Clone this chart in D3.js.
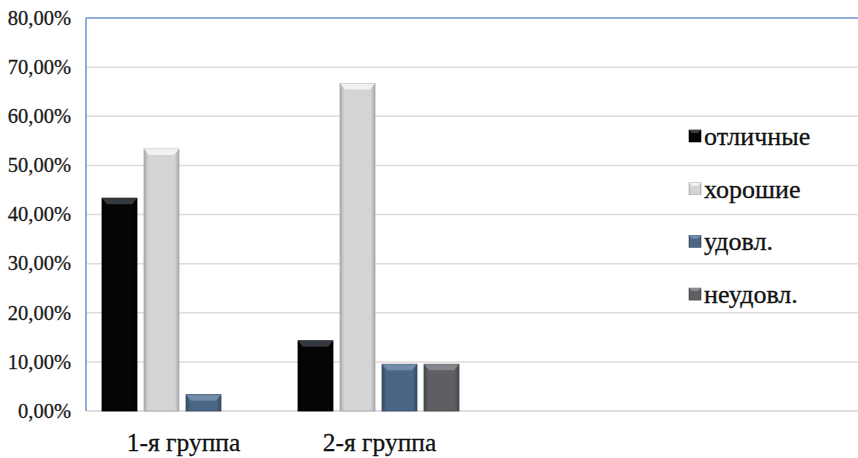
<!DOCTYPE html>
<html>
<head>
<meta charset="utf-8">
<script src="https://cdn.jsdelivr.net/npm/d3@7/dist/d3.min.js"></script>
<style>
  html, body { margin: 0; padding: 0; background: #fff; }
  svg { display: block; }
</style>
</head>
<body>
<svg id="chart" width="858" height="458"></svg>
<script>
// Оценки по группам (доля студентов, %)
const groups = ["1-я группа", "2-я группа"];
const series = ["отличные", "хорошие", "удовл.", "неудовл."];
const values = {
  "1-я группа": [43.33, 53.33, 3.33, 0],
  "2-я группа": [14.29, 66.67, 9.52, 9.52]
};
const yTicks = [0, 10, 20, 30, 40, 50, 60, 70, 80];

const FONT = '"Liberation Serif"';

// face, edge (darker sides), cap (top bevel)
const palette = [
  { face: "#050505", edge: "#000000", cap: "#3a3f46" },
  { face: "#d4d4d6", edge: "#a9a9ab", cap: "#f4f4f4" },
  { face: "#4b6585", edge: "#354a63", cap: "#7690ae" },
  { face: "#5e5e63", edge: "#46464a", cap: "#8a8a8f" }
];

const svg = d3.select("#chart");
const plotLeft = 86, plotTop = 18, plotBottom = 411, plotRight = 858;

const y = d3.scaleLinear().domain([0, 80]).range([plotBottom, plotTop]);
const x0 = d3.scaleBand().domain(groups).range([plotLeft, 475])
  .paddingInner(0.1429).paddingOuter(0.0638);
const x1 = d3.scaleBand().domain(series).range([0, x0.bandwidth()])
  .paddingInner(0.1667).paddingOuter(0.0833);

const defs = svg.append("defs");
palette.forEach((p, i) => {
  const g = defs.append("linearGradient").attr("id", "side" + i)
    .attr("x1", 0).attr("x2", 1).attr("y1", 0).attr("y2", 0);
  g.append("stop").attr("offset", "0%").attr("stop-color", p.edge);
  g.append("stop").attr("offset", "12%").attr("stop-color", p.face);
  g.append("stop").attr("offset", "88%").attr("stop-color", p.face);
  g.append("stop").attr("offset", "100%").attr("stop-color", p.edge);
});

// gridlines
svg.append("g").selectAll("line").data(yTicks.filter(t => t > 0 && t < 80)).join("line")
  .attr("x1", plotLeft).attr("x2", plotRight)
  .attr("y1", d => y(d)).attr("y2", d => y(d))
  .attr("stroke", "#e4dada").attr("stroke-width", 1.5);

// baseline
svg.append("line").attr("x1", plotLeft).attr("x2", plotRight)
  .attr("y1", y(0)).attr("y2", y(0))
  .attr("stroke", "#d8d2d2").attr("stroke-width", 1.5);

// top border and value axis line
svg.append("line").attr("x1", plotLeft).attr("x2", plotRight)
  .attr("y1", y(80)).attr("y2", y(80))
  .attr("stroke", "#8eb0d6").attr("stroke-width", 2);
svg.append("line").attr("x1", plotLeft).attr("x2", plotLeft)
  .attr("y1", y(80)).attr("y2", y(0))
  .attr("stroke", "#8eb0d6").attr("stroke-width", 2);

// y tick labels
svg.append("g").selectAll("text").data(yTicks).join("text")
  .attr("x", 71).attr("y", d => y(d))
  .attr("dy", "0.33em").attr("text-anchor", "end")
  .style("font-family", FONT)
  .style("font-size", "20.5px").attr("fill", "#1a1a1a")
  .attr("stroke", "#1a1a1a").attr("stroke-width", 0.3)
  .text(d => d.toFixed(2).replace(".", ",") + "%");

// bars
const bars = [];
groups.forEach(g => series.forEach((s, i) => {
  if (values[g][i] > 0) bars.push({ g, s, i, v: values[g][i] });
}));

const bg = svg.append("g").selectAll("g").data(bars).join("g")
  .attr("transform", d => `translate(${x0(d.g) + x1(d.s)},0)`);

const bw = x1.bandwidth();
bg.append("rect")
  .attr("x", 0).attr("y", d => y(d.v))
  .attr("width", bw).attr("height", d => y(0) - y(d.v))
  .attr("fill", d => `url(#side${d.i})`)
  .attr("stroke", d => palette[d.i].edge).attr("stroke-width", 0.8);

// bevelled top cap
bg.append("path")
  .attr("d", d => {
    const t = y(d.v), h = 6, inset = 5;
    return `M0,${t} L${bw},${t} L${bw - inset},${t + h} L${inset},${t + h} Z`;
  })
  .attr("fill", d => palette[d.i].cap)
  .attr("opacity", 0.9);

// category labels
svg.append("g").selectAll("text").data(groups).join("text")
  .attr("x", d => x0(d) + x0.bandwidth() / 2 + 1)
  .attr("y", 451)
  .attr("text-anchor", "middle")
  .style("font-family", FONT)
  .style("font-size", "25.5px").attr("fill", "#111")
  .attr("stroke", "#111").attr("stroke-width", 0.3)
  .text(d => d);

// legend
const lg = svg.append("g").selectAll("g").data(series).join("g")
  .attr("transform", (d, i) => `translate(689,${137 + i * 52.7})`);
lg.append("rect")
  .attr("x", 0).attr("y", -7).attr("width", 12).attr("height", 12)
  .attr("fill", (d, i) => `url(#side${i})`)
  .attr("stroke", (d, i) => palette[i].edge).attr("stroke-width", 0.6);
lg.append("path")
  .attr("d", "M0,-7 L12,-7 L9,-4 L3,-4 Z")
  .attr("fill", (d, i) => palette[i].cap);
lg.append("text")
  .attr("x", 15).attr("y", 0).attr("dy", "0.3em")
  .style("font-family", FONT)
  .style("font-size", "26px").attr("fill", "#111")
  .attr("stroke", "#111").attr("stroke-width", 0.3)
  .text(d => d);
</script>
</body>
</html>
